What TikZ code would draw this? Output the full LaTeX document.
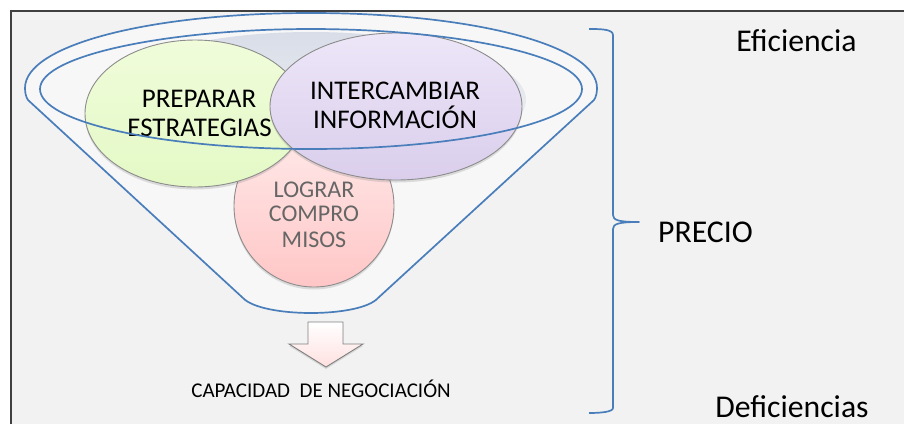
\documentclass[tikz,border=0pt]{standalone}
\usepackage{fontspec}
\setmainfont{Carlito}
\usetikzlibrary{shapes.geometric,shadows}
\definecolor{bluel}{HTML}{4A7EBB}
\definecolor{pagebg}{HTML}{F2F2F2}
\definecolor{funnelin}{HTML}{F7F7F7}
\definecolor{tinttop}{HTML}{D8DDE8}
\definecolor{greentop}{HTML}{F0FCDA}
\definecolor{greenbot}{HTML}{E4F9C6}
\definecolor{purtop}{HTML}{EDE6F8}
\definecolor{purbot}{HTML}{DACEEC}
\definecolor{pinktop}{HTML}{FFEAEA}
\definecolor{pinkbot}{HTML}{FFC6C6}
\definecolor{arrowbot}{HTML}{FFE0E0}
\definecolor{greytext}{HTML}{666666}
\tikzset{
  bubble/.style={ellipse,draw=black!45,line width=.9pt,inner sep=0pt,
    drop shadow={shadow xshift=0pt,shadow yshift=-2.5pt,opacity=.2,fill=black!60}},
  bluecurve/.style={draw=bluel,line width=1.7pt,line join=round},
  lab/.style={anchor=base,inner sep=0pt,text=black},
  softlab/.style={anchor=base,inner sep=0pt,text=greytext,font=\fs{24}},
  mainlab/.style={lab,font=\fs{27}},
  sidelab/.style={lab,font=\fs{31.7}},
}
\newcommand{\fs}[1]{\fontsize{#1}{#1}\selectfont}
\newcommand{\rimpath}{(40,89) .. controls (40,55) and (170,29) .. (311,29)
  .. controls (452,29) and (582,55) .. (582,89)
  .. controls (582,122) and (461,149) .. (311,149)
  .. controls (161,149) and (40,122) .. (40,89) -- cycle}
\begin{document}
\begin{tikzpicture}[x=1pt,y=-1pt]
\useasboundingbox (0,0) rectangle (904,424);
\fill[white] (0,0) rectangle (904,424);
\fill[pagebg] (11,11) rectangle (904,424);
\draw[black!75,line width=2pt] (11,424) -- (11,11) -- (904,11);
% funnel body
\path[fill=funnelin,bluecurve] (28,100) .. controls (26,97) and (25,93) .. (25,88)
  .. controls (25,45) and (150,13) .. (311,13)
  .. controls (472,13) and (597,45) .. (597,88)
  .. controls (597,93) and (596,97) .. (594,100)
  -- (378,298) .. controls (360,318) and (262,318) .. (243,298) -- cycle;
% inner tint, clipped to the rim
\begin{scope}
\clip \rimpath;
\shade[top color=tinttop,middle color=funnelin,bottom color=funnelin] (311,100) ellipse (215 and 68);
\end{scope}
% bubbles
\node[bubble,minimum width=160pt,minimum height=162pt,top color=pinktop,bottom color=pinkbot] (logro) at (314,206) {};
\node[bubble,minimum width=220pt,minimum height=147pt,top color=greentop,bottom color=greenbot] (prep) at (195,113.5) {};
\node[bubble,minimum width=252pt,minimum height=147pt,top color=purtop,bottom color=purbot] (inter) at (396,106.5) {};
% labels
\node[mainlab] (t1) at (199,107) {PREPARAR};
\node[mainlab] (t2) at (199.5,136) {ESTRATEGIAS};
\node[mainlab] (t3) at (395,99) {INTERCAMBIAR};
\node[mainlab] (t4) at (395,128) {INFORMACIÓN};
\node[softlab] (t5) at (314,197) {LOGRAR};
\node[softlab] (t6) at (314,221) {COMPRO};
\node[softlab] (t7) at (314,247) {MISOS};
% rim
\path[bluecurve] \rimpath;
% arrow
\path[draw=black!50,line width=.9pt,top color=white,bottom color=arrowbot,
  drop shadow={shadow xshift=0pt,shadow yshift=-2pt,opacity=.2,fill=black!60}]
  (308,322) -- (343,322) -- (343,344) -- (363,344) -- (326,367) -- (289,344) -- (308,344) -- cycle;
\node[lab,font=\fs{21}] (cap) at (321,397) {CAPACIDAD\ \ DE NEGOCIACIÓN};
% brace
\draw[bluecurve] (589,29) .. controls (600,29) and (613,29) .. (613,35)
  -- (613,215) .. controls (613,220) and (618,222) .. (639,222)
  .. controls (618,222) and (613,224) .. (613,229)
  -- (613,408) .. controls (613,412) and (600,413) .. (589,413);
\node[sidelab] (ef) at (796.5,51) {Eficiencia};
\node[sidelab] (pr) at (705.5,242) {PRECIO};
\node[sidelab] (de) at (792,417) {Deficiencias};
\end{tikzpicture}
\end{document}
